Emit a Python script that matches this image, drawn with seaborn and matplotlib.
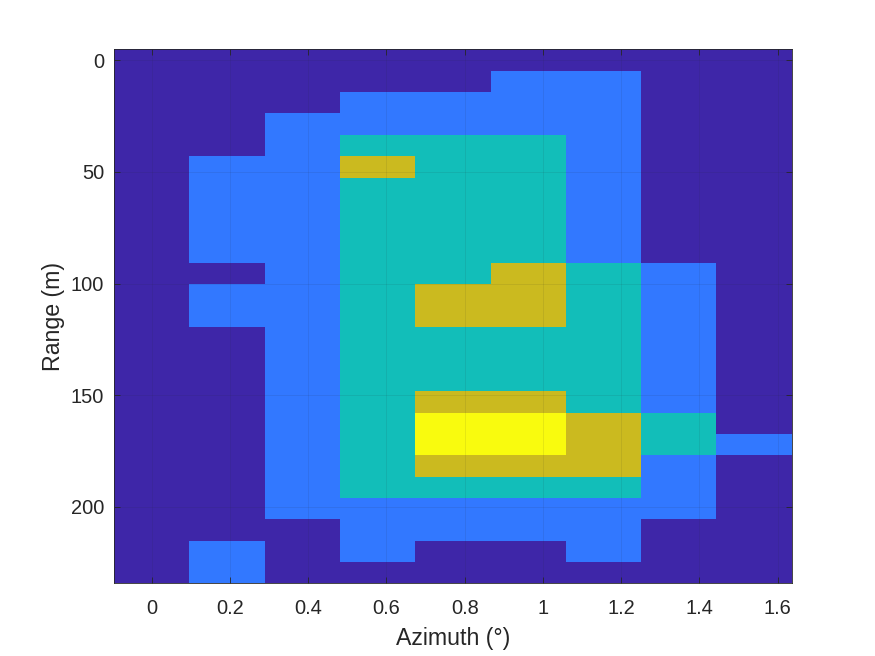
import numpy as np
import seaborn as sns
import matplotlib
matplotlib.use("Agg")
import matplotlib.pyplot as plt
from matplotlib.colors import ListedColormap

# cell centres
azimuth = [0, 0.1925, 0.385, 0.5775, 0.77, 0.9625, 1.155, 1.3475, 1.54]
range_m = [0, 9.56, 19.12, 28.68, 38.24, 47.8, 57.36, 66.92, 76.48, 86.04, 95.6, 105.16, 114.72,
           124.28, 133.84, 143.4, 152.96, 162.52, 172.08, 181.64, 191.2, 200.76, 210.32, 219.88, 229.44]

# quantised levels, one row per range bin
levels = [
    [0, 0, 0, 0, 0, 0, 0, 0, 0],
    [0, 0, 0, 0, 0, 1, 1, 0, 0],
    [0, 0, 0, 1, 1, 1, 1, 0, 0],
    [0, 0, 1, 1, 1, 1, 1, 0, 0],
    [0, 0, 1, 2, 2, 2, 1, 0, 0],
    [0, 1, 1, 3, 2, 2, 1, 0, 0],
    [0, 1, 1, 2, 2, 2, 1, 0, 0],
    [0, 1, 1, 2, 2, 2, 1, 0, 0],
    [0, 1, 1, 2, 2, 2, 1, 0, 0],
    [0, 1, 1, 2, 2, 2, 1, 0, 0],
    [0, 0, 1, 2, 2, 3, 2, 1, 0],
    [0, 1, 1, 2, 3, 3, 2, 1, 0],
    [0, 1, 1, 2, 3, 3, 2, 1, 0],
    [0, 0, 1, 2, 2, 2, 2, 1, 0],
    [0, 0, 1, 2, 2, 2, 2, 1, 0],
    [0, 0, 1, 2, 2, 2, 2, 1, 0],
    [0, 0, 1, 2, 3, 3, 2, 1, 0],
    [0, 0, 1, 2, 4, 4, 3, 2, 0],
    [0, 0, 1, 2, 4, 4, 3, 2, 1],
    [0, 0, 1, 2, 3, 3, 3, 1, 0],
    [0, 0, 1, 2, 2, 2, 2, 1, 0],
    [0, 0, 1, 1, 1, 1, 1, 1, 0],
    [0, 0, 0, 1, 1, 1, 1, 0, 0],
    [0, 1, 0, 1, 0, 0, 1, 0, 0],
    [0, 1, 0, 0, 0, 0, 0, 0, 0],
]

az_ticks = [0, 0.2, 0.4, 0.6, 0.8, 1, 1.2, 1.4, 1.6]
az_labels = ["0", "0.2", "0.4", "0.6", "0.8", "1", "1.2", "1.4", "1.6"]
range_ticks = [0, 50, 100, 150, 200]

colors = ["#3e26a8", "#3278ff", "#12beb9", "#cbba1f", "#f9fb0e"]

sns.set_style("white")
plt.rcParams["font.family"] = ["Liberation Sans", "DejaVu Sans"]

fig = plt.figure(figsize=(8.75, 6.56), dpi=100)
ax = fig.add_axes([114 / 875, 1 - 583.4 / 656, 677.8 / 875, 534 / 656])

sns.heatmap(np.array(levels), cmap=ListedColormap(colors), vmin=-0.5, vmax=4.5,
            cbar=False, ax=ax, xticklabels=False, yticklabels=False)

# heatmap cells sit at index + 0.5, so map the data ticks onto that
az_step = azimuth[1] - azimuth[0]
range_step = range_m[1] - range_m[0]
ax.set_xticks([t / az_step + 0.5 for t in az_ticks])
ax.set_xticklabels(az_labels)
ax.set_yticks([t / range_step + 0.5 for t in range_ticks])
ax.set_yticklabels([str(t) for t in range_ticks], rotation=0)

ax.grid(True, color="#262626", alpha=0.1, linewidth=0.6)
ax.set_axisbelow(False)
ax.tick_params(direction="in", length=4.5, width=0.6, color="#262626", labelcolor="#262626",
               labelsize=14.4, top=True, right=True, bottom=True, left=True)
ax.tick_params(axis="x", pad=11.5)
ax.tick_params(axis="y", pad=7)

ax.set_xlabel("Azimuth (°)", fontsize=16.7, color="#262626", labelpad=6.5)
ax.set_ylabel("Range (m)", fontsize=16.7, color="#262626", labelpad=4.5)

for s in ax.spines.values():
    s.set_visible(True)
    s.set_color("#262626")
    s.set_linewidth(0.6)

plt.savefig("out.png", dpi=100)
